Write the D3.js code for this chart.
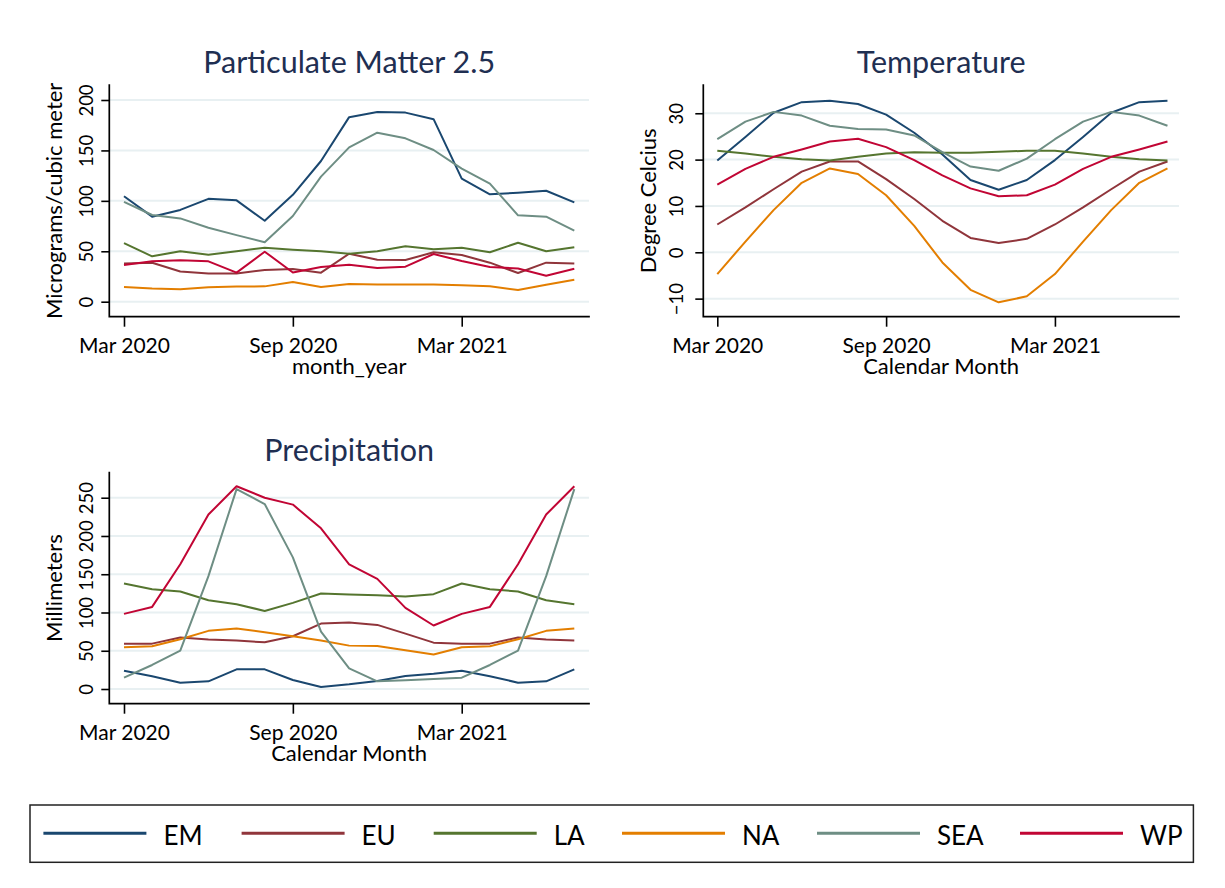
<!DOCTYPE html>
<html>
<head>
<meta charset="utf-8">
<script src="https://cdn.jsdelivr.net/npm/d3@7"></script>
<style>
  html, body { margin: 0; padding: 0; background: #ffffff; }
  svg { display: block; font-family: Lato, "Open Sans", sans-serif; }
</style>
</head>
<body>
<svg id="chart" width="1225" height="888"></svg>
<script>
// Monthly observations, Mar 2020 – Jul 2021
const months = ["Mar 2020","Apr 2020","May 2020","Jun 2020","Jul 2020","Aug 2020","Sep 2020",
  "Oct 2020","Nov 2020","Dec 2020","Jan 2021","Feb 2021","Mar 2021","Apr 2021","May 2021",
  "Jun 2021","Jul 2021"];
const regions = ["EM", "EU", "LA", "NA", "SEA", "WP"];
const xTickLabels = ["Mar 2020", "Sep 2020", "Mar 2021"];

// PM2.5 (micrograms / cubic meter)
const pmEM  = [104.5, 84.3, 91, 102, 100.5, 80.3, 106, 139.5, 183, 188, 187.5, 181, 122, 106.5, 108, 110, 98.5];
const pmEU  = [38, 38.7, 30, 28, 28, 31.4, 32.4, 28.8, 47.6, 41.7, 41.3, 49, 46.3, 38.7, 28.4, 38.7, 38];
const pmLA  = [58, 45, 50, 46.6, 50, 53.5, 51.6, 50, 47.6, 50, 55, 52, 53.5, 49, 58.5, 50, 54];
const pmNA  = [14.5, 13, 12.3, 14.3, 15, 15.2, 19.5, 14.6, 17.5, 17, 17, 17, 16.2, 15.3, 11.5, 16.8, 21.8];
const pmSEA = [99, 86, 82.6, 73.4, 66, 59, 85, 124, 153, 167.6, 162, 150.4, 132, 117, 85.6, 84.3, 70.4];
const pmWP  = [36.4, 40, 41, 40, 28.8, 49.6, 29, 34.4, 36.7, 33.4, 34.7, 47.3, 40.3, 34.4, 33, 25.8, 32.7];

// Temperature (degrees Celsius)
const tempEM  = [19.8, 24.9, 30.1, 32.4, 32.7, 32, 29.7, 25.8, 21.1, 15.6, 13.5, 15.6, 19.9, 24.9, 30.1, 32.4, 32.7];
const tempEU  = [6.0, 9.7, 13.6, 17.4, 19.6, 19.6, 15.8, 11.5, 6.8, 3.1, 2.0, 2.9, 6.0, 9.7, 13.6, 17.4, 19.6];
const tempLA  = [21.9, 21.3, 20.6, 20.1, 19.8, 20.6, 21.3, 21.6, 21.5, 21.5, 21.7, 21.9, 21.9, 21.3, 20.6, 20.1, 19.8];
const tempNA  = [-4.7, 2.3, 9.1, 15.0, 18.1, 16.9, 12.3, 5.7, -2.2, -8.1, -10.8, -9.5, -4.7, 2.3, 9.1, 15.0, 18.1];
const tempSEA = [24.4, 28.2, 30.3, 29.5, 27.3, 26.6, 26.5, 25.2, 21.6, 18.5, 17.6, 20.2, 24.4, 28.2, 30.3, 29.5, 27.3];
const tempWP  = [14.6, 18.0, 20.6, 22.2, 23.9, 24.5, 22.7, 19.9, 16.6, 13.8, 12.1, 12.3, 14.6, 18.0, 20.6, 22.2, 23.9];

// Precipitation (millimeters)
const precEM  = [24, 16.6, 8.3, 10, 25.7, 25.7, 11.8, 2.6, 6.1, 10.5, 17, 20, 24, 16.6, 8.3, 10, 25.7];
const precEU  = [59.3, 59.3, 67.2, 64.6, 63.3, 61, 69, 85.5, 86.8, 83.8, 72.4, 60.6, 59.3, 59.3, 67.2, 64.6, 63.3];
const precLA  = [137.9, 130.5, 127.4, 116, 110.8, 102, 112.6, 124.8, 123.5, 122.6, 120.9, 124, 137.9, 130.5, 127.4, 116, 110.8];
const precNA  = [54.5, 55.8, 65, 76, 79, 74.2, 69, 63.3, 56.7, 56.3, 50.6, 45, 54.5, 55.8, 65, 76, 79];
const precSEA = [14.8, 31.4, 50.2, 147.5, 261.3, 241.7, 172, 75, 27, 10, 11.3, 13, 14.8, 31.4, 50.2, 147.5, 261.3];
const precWP  = [98.2, 107.3, 163, 228, 265, 250, 241, 210, 163, 144, 106, 83, 98.2, 107.3, 163, 228, 265];

const pmTicks = [0, 50, 100, 150, 200];
const tempTicks = [-10, 0, 10, 20, 30];
const precTicks = [0, 50, 100, 150, 200, 250];

// Series colours (EM, EU, LA, NA, SEA, WP)
const palette = ["#1a476f", "#90353b", "#55752f", "#e37e00", "#6e8e84", "#c10534"];

const svg = d3.select("#chart");
const FONT = 'Lato, "Open Sans", sans-serif';

function panel(opts) {
  const { left, right, top, bottom, xDomain, yDomain, series, yTicks,
          title, titleY, xTitle, yTitle, yLabelOffset } = opts;
  const x = d3.scaleLinear().domain(xDomain).range([left, right]);
  const y = d3.scaleLinear().domain(yDomain).range([bottom, top]);
  const g = svg.append("g");

  // horizontal grid lines
  g.append("g").selectAll("line").data(yTicks).join("line")
    .attr("x1", left).attr("x2", right)
    .attr("y1", d => y(d)).attr("y2", d => y(d))
    .attr("stroke", "#e8f0f2").attr("stroke-width", 2);

  // series
  const line = d3.line().x((d, i) => x(i)).y(d => y(d));
  g.append("g").selectAll("path").data(series).join("path")
    .attr("d", d => line(d))
    .attr("fill", "none")
    .attr("stroke", (d, i) => palette[i])
    .attr("stroke-width", 2)
    .attr("stroke-linejoin", "round");

  // y axis
  const yAxis = d3.axisLeft(y).tickValues(yTicks).tickSize(8).tickPadding(0);
  const ya = g.append("g").attr("transform", `translate(${left},0)`).call(yAxis);
  ya.select(".domain").remove();
  ya.selectAll(".tick line").attr("stroke", "#000").attr("stroke-width", 1.6);
  ya.selectAll(".tick text")
    .attr("x", null).attr("dy", null)
    .attr("text-anchor", "middle")
    .attr("transform", `translate(${-yLabelOffset},0) rotate(-90)`)
    .attr("font-family", FONT).attr("font-size", 18.5).attr("fill", "#000");

  // x axis
  const xIdx = xTickLabels.map(l => months.indexOf(l));
  const xAxis = d3.axisBottom(x).tickValues(xIdx).tickFormat(i => months[i])
    .tickSize(10).tickPadding(0);
  const xa = g.append("g").attr("transform", `translate(0,${bottom})`).call(xAxis);
  xa.select(".domain").remove();
  xa.selectAll(".tick line").attr("stroke", "#000").attr("stroke-width", 1.6);
  xa.selectAll(".tick text")
    .attr("y", 36.2).attr("dy", null)
    .attr("font-family", FONT).attr("font-size", 21).attr("fill", "#000");

  // axis lines
  g.append("path")
    .attr("d", `M${left},${top}V${bottom}H${right}`)
    .attr("fill", "none").attr("stroke", "#000").attr("stroke-width", 1.7)
    .attr("stroke-linejoin", "miter").attr("stroke-linecap", "square");

  // titles
  const cx = (left + right) / 2;
  g.append("text").attr("x", cx).attr("y", titleY)
    .attr("text-anchor", "middle").attr("font-family", FONT)
    .attr("font-size", 30.5).attr("fill", "#1f2f52").text(title);
  g.append("text").attr("x", cx).attr("y", bottom + 57)
    .attr("text-anchor", "middle").attr("font-family", FONT)
    .attr("font-size", 22).attr("fill", "#000").text(xTitle);
  g.append("text")
    .attr("transform", `translate(${left - 47.3},${(top + bottom) / 2}) rotate(-90)`)
    .attr("text-anchor", "middle").attr("font-family", FONT)
    .attr("font-size", 22).attr("fill", "#000").text(yTitle);
}

panel({
  left: 109.3, right: 589, top: 85, bottom: 316.7,
  xDomain: [-0.522, 16.522], yDomain: [-14.87, 214.87],
  series: [pmEM, pmEU, pmLA, pmNA, pmSEA, pmWP], yTicks: pmTicks,
  title: "Particulate Matter 2.5", titleY: 73,
  xTitle: "month_year", yTitle: "Micrograms/cubic meter", yLabelOffset: 16.6
});

panel({
  left: 703.3, right: 1179, top: 85, bottom: 316.7,
  xDomain: [-0.4975, 16.41], yDomain: [-13.9, 36.1],
  series: [tempEM, tempEU, tempLA, tempNA, tempSEA, tempWP], yTicks: tempTicks,
  title: "Temperature", titleY: 73,
  xTitle: "Calendar Month", yTitle: "Degree Celcius", yLabelOffset: 20.6
});

panel({
  left: 109.3, right: 589, top: 472.7, bottom: 703.7,
  xDomain: [-0.522, 16.522], yDomain: [-19.2, 282.7],
  series: [precEM, precEU, precLA, precNA, precSEA, precWP], yTicks: precTicks,
  title: "Precipitation", titleY: 461,
  xTitle: "Calendar Month", yTitle: "Millimeters", yLabelOffset: 16.6
});

// legend
const legend = svg.append("g");
legend.append("rect")
  .attr("x", 30).attr("y", 805).attr("width", 1163.4).attr("height", 57.3)
  .attr("fill", "#fff").attr("stroke", "#222").attr("stroke-width", 1.5);
const keyStarts = [43.4, 241.6, 433.7, 622, 817, 1020];
const items = legend.selectAll("g.item").data(regions).join("g").attr("class", "item")
  .attr("transform", (d, i) => `translate(${keyStarts[i]},833.3)`);
items.append("line").attr("x1", 0).attr("x2", 103).attr("y1", 0).attr("y2", 0)
  .attr("stroke", (d, i) => palette[i]).attr("stroke-width", 3);
items.append("text").attr("x", 120).attr("y", 11.5)
  .attr("font-family", FONT).attr("font-size", 26).attr("fill", "#000").text(d => d);
</script>
</body>
</html>
